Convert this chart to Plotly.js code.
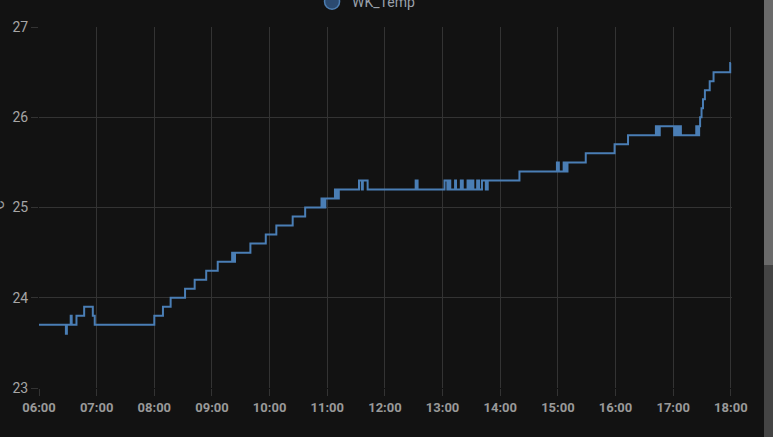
<!DOCTYPE html>
<html>
<head>
<meta charset="utf-8">
<script src="https://cdn.plot.ly/plotly-3.0.1.min.js"></script>
<style>
  html, body { margin: 0; padding: 0; background: #121212; overflow: hidden; }
  #chart { width: 773px; height: 437px; }
  #sbTrack { position: absolute; left: 764px; top: 0; width: 9px; height: 437px; background: #444444; }
  #sbThumb { position: absolute; left: 764px; top: 0; width: 9px; height: 265px; background: #6a6a6a; }
</style>
</head>
<body>
<div id="chart"></div>
<div id="sbTrack"></div>
<div id="sbThumb"></div>
<script>
// ---- data ----
const day = '2024-01-01 ';
const times = [
  '06:00:00','06:28:00','06:29:00','06:33:00','06:34:00','06:39:00','06:47:00','06:56:00','06:58:00',
  '08:00:00','08:09:00','08:17:00','08:32:00','08:42:00','08:54:00','09:06:00','09:21:00','09:22:00','09:24:00',
  '09:40:00','09:56:00','10:07:00','10:24:00','10:37:00','10:54:00','10:56:00','10:58:00',
  '11:08:00','11:10:00','11:12:00','11:33:00','11:36:00','11:37:00','11:42:00',
  '12:32:00','12:34:00',
  '13:02:00','13:05:00','13:06:00','13:08:00','13:13:00','13:14:00','13:19:00','13:21:00',
  '13:26:00','13:28:00','13:30:00','13:32:00','13:36:00','13:38:00','13:41:00','13:45:00','13:47:00',
  '14:20:00','14:59:00','15:01:00','15:06:00','15:08:00','15:10:00','15:29:00','15:59:00','16:13:00',
  '16:42:00','16:44:00','16:46:00','17:01:00','17:03:00','17:05:00','17:06:00','17:08:00',
  '17:24:00','17:26:00','17:27:00','17:28:00','17:29:30','17:31:00','17:33:00','17:38:00','17:42:00',
  '17:59:20','18:00:00'
];
const temps = [
  23.7,23.6,23.7,23.8,23.7,23.8,23.9,23.8,23.7,
  23.8,23.9,24.0,24.1,24.2,24.3,24.4,24.5,24.4,24.5,
  24.6,24.7,24.8,24.9,25.0,25.1,25.0,25.1,
  25.2,25.1,25.2,25.3,25.2,25.3,25.2,
  25.3,25.2,
  25.3,25.2,25.3,25.2,25.3,25.2,25.3,25.2,
  25.3,25.2,25.3,25.2,25.3,25.2,25.3,25.2,25.3,
  25.4,25.5,25.4,25.5,25.4,25.5,25.6,25.7,25.8,
  25.9,25.8,25.9,25.8,25.9,25.8,25.9,25.8,
  25.9,25.8,25.9,26.0,26.1,26.2,26.3,26.4,26.5,
  26.6,26.6
];
const seriesName = 'WK_Temp';
const yTitle = '°C';
const xTickVals = ['06:00','07:00','08:00','09:00','10:00','11:00','12:00','13:00','14:00','15:00','16:00','17:00','18:00'];
const yTickVals = [23, 24, 25, 26, 27];
const xRange = ['06:00:00', '18:01:12'];
const yRange = [23, 27];

const lineColor = '#4a7eb5';
const gridColor = '#333333';

const traces = [
  {
    x: times.map(t => day + t),
    y: temps,
    type: 'scatter',
    mode: 'lines',
    line: { shape: 'hv', color: lineColor, width: 2 },
    showlegend: false,
    hoverinfo: 'skip'
  },
  {
    x: [null], y: [null],
    type: 'scatter',
    mode: 'markers',
    name: seriesName,
    marker: { symbol: 'circle', size: 15, color: '#2b4a70', line: { color: '#4d7db0', width: 1.5 } },
    showlegend: true
  }
];

const layout = {
  width: 773, height: 437,
  paper_bgcolor: '#121212',
  plot_bgcolor: '#121212',
  margin: { l: 39, r: 41, t: 27, b: 49, pad: 0, autoexpand: false },
  font: { family: 'Roboto, "Open Sans", sans-serif', color: '#a0a0a0' },
  showlegend: true,
  legend: {
    orientation: 'h',
    x: 0.394, xanchor: 'left',
    y: 1.069, yanchor: 'middle',
    bgcolor: 'rgba(0,0,0,0)',
    font: { size: 14, color: '#9aa1ab', family: 'Roboto, sans-serif' }
  },
  xaxis: {
    type: 'date',
    range: xRange.map(t => day + t),
    tickvals: xTickVals.map(t => day + t + ':00'),
    ticktext: xTickVals,
    showgrid: true, gridcolor: gridColor, gridwidth: 1,
    ticks: 'outside', ticklen: 7, tickcolor: gridColor, tickwidth: 1,
    zeroline: false, showline: false,
    tickfont: { size: 13, color: '#999999', family: 'Roboto, sans-serif', weight: 'bold' }
  },
  yaxis: {
    range: yRange,
    tickvals: yTickVals,
    showgrid: true, gridcolor: gridColor, gridwidth: 1,
    ticks: 'outside', ticklen: 7, tickcolor: gridColor, tickwidth: 1,
    zeroline: false, showline: false,
    tickfont: { size: 14, color: '#a6a6a6', family: 'Roboto, sans-serif' }
  },
  annotations: [
    {
      text: yTitle,
      xref: 'paper', yref: 'paper',
      x: -0.059, y: 0.5,
      xanchor: 'center', yanchor: 'middle',
      textangle: -90,
      showarrow: false,
      font: { size: 14, color: '#a0a0a0', family: 'Roboto, sans-serif' }
    }
  ]
};

Plotly.newPlot('chart', traces, layout, { displayModeBar: false, staticPlot: true });
</script>
</body>
</html>
